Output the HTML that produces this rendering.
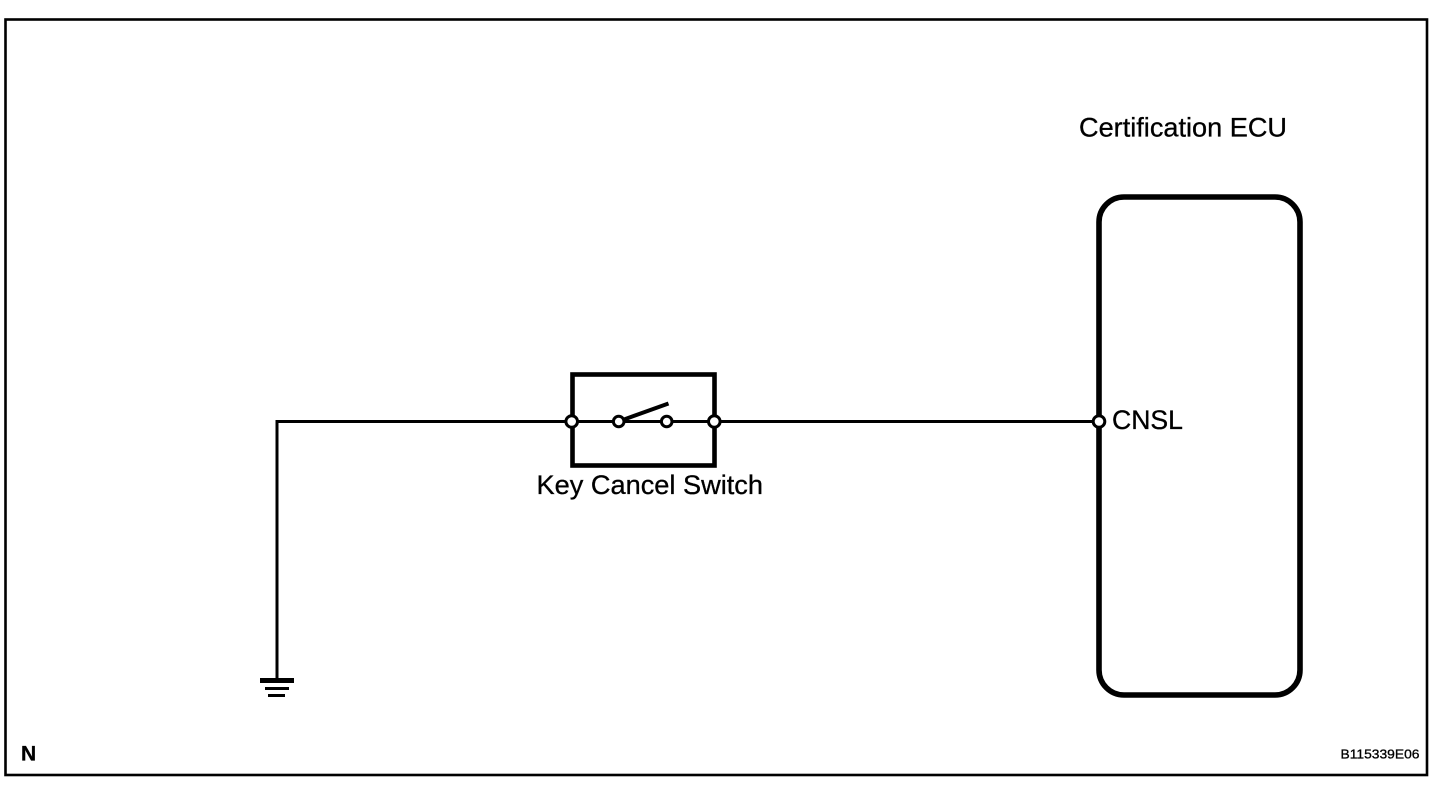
<!DOCTYPE html>
<html><head><meta charset="utf-8"><style>
html,body{margin:0;padding:0;background:#fff;width:1456px;height:790px;overflow:hidden}
svg{display:block}
text{font-family:"Liberation Sans",sans-serif;fill:#000;stroke:#000;stroke-width:.3}
</style></head><body>
<svg width="1456" height="790" viewBox="0 0 1456 790">
<rect width="1456" height="790" fill="#fff"/>
<rect x="5.500" y="19.500" width="1421.500" height="755.500" fill="none" stroke="#000" stroke-width="2.600"/>
<rect x="1099" y="197" width="201" height="498" rx="25" fill="none" stroke="#000" stroke-width="5.600"/>
<rect x="572.500" y="374.500" width="142" height="91" fill="none" stroke="#000" stroke-width="4.600"/>
<path d="M277 680V421.500H1099" fill="none" stroke="#000" stroke-width="3"/>
<rect x="260" y="678" width="34" height="5"/>
<rect x="265" y="687" width="24" height="3"/>
<rect x="268" y="694" width="17" height="3"/>
<line x1="624" y1="419.500" x2="668.500" y2="403.500" stroke="#000" stroke-width="4"/>
<g fill="#fff" stroke="#000" stroke-width="3">
<circle cx="571.700" cy="421.500" r="5.800"/>
<circle cx="618.700" cy="421.500" r="5.300"/>
<circle cx="666.700" cy="421.500" r="5.300"/>
<circle cx="714.300" cy="421.500" r="5.800"/>
<circle cx="1099" cy="421.500" r="5.800"/>
</g>
<text x="1079" y="136.500" font-size="26.500" textLength="208" lengthAdjust="spacingAndGlyphs">Certification ECU</text>
<text x="536.500" y="494" font-size="26.500" textLength="226.500" lengthAdjust="spacingAndGlyphs">Key Cancel Switch</text>
<text x="1112" y="429" font-size="26.500" textLength="71" lengthAdjust="spacingAndGlyphs">CNSL</text>
<text x="21" y="760.500" font-size="21" font-weight="bold">N</text>
<text x="1340.500" y="758.500" font-size="13" textLength="79" lengthAdjust="spacingAndGlyphs">B115339E06</text>
</svg>
</body></html>
